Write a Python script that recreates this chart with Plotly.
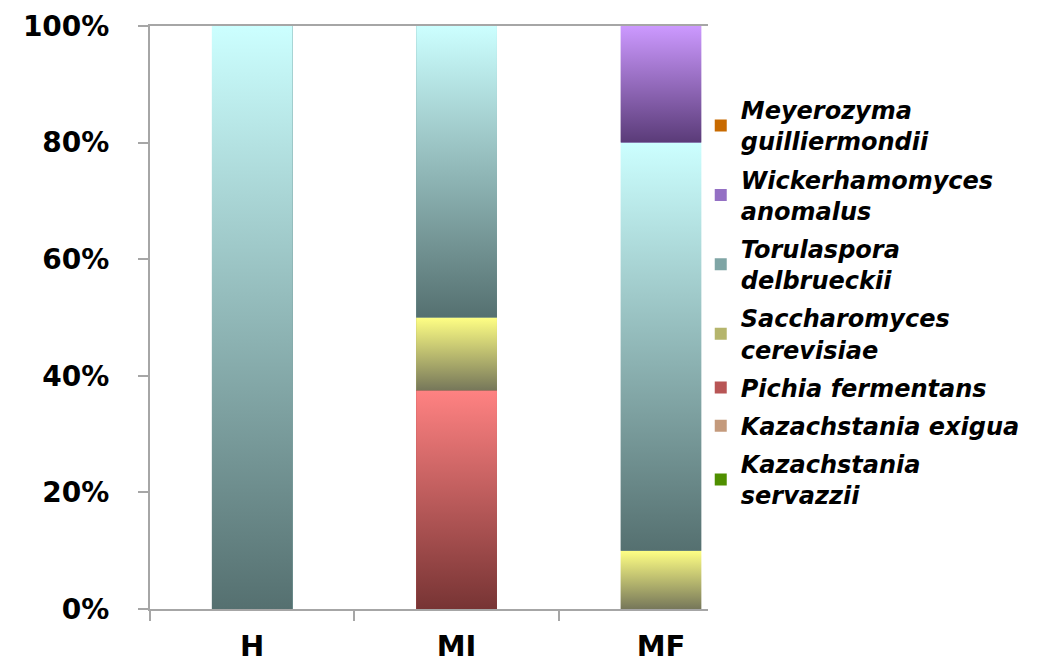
import plotly.graph_objects as go

# ---- data (percent of isolates) ----
categories = ["H", "MI", "MF"]
# stacking order: bottom -> top
species = [
    "Kazachstania<br>servazzii",
    "Kazachstania exigua",
    "Pichia fermentans",
    "Saccharomyces<br>cerevisiae",
    "Torulaspora<br>delbrueckii",
    "Wickerhamomyces<br>anomalus",
    "Meyerozyma<br>guilliermondii",
]
kazachstania_servazzii = [0, 0, 0]
kazachstania_exigua = [0, 0, 0]
pichia_fermentans = [0, 37.5, 0]
saccharomyces_cerevisiae = [0, 12.5, 10]
torulaspora_delbrueckii = [100, 50, 70]
wickerhamomyces_anomalus = [0, 0, 20]
meyerozyma_guilliermondii = [0, 0, 0]
y_ticks = [0, 20, 40, 60, 80, 100]

values = [
    kazachstania_servazzii,
    kazachstania_exigua,
    pichia_fermentans,
    saccharomyces_cerevisiae,
    torulaspora_delbrueckii,
    wickerhamomyces_anomalus,
    meyerozyma_guilliermondii,
]

# (bottom colour, top colour, legend colour)
colors = [
    ("#2f5a00", "#6fc400", "#4f8f00"),
    ("#86685a", "#ffc89e", "#c49a7c"),
    ("#773434", "#ff8282", "#b85555"),
    ("#76775a", "#ffff84", "#b5b56c"),
    ("#557070", "#ccffff", "#7fa5a5"),
    ("#5a3b78", "#cc99ff", "#9470c4"),
    ("#7a4200", "#f08a10", "#c86a00"),
]

bar_width = 0.395
xpos = list(range(len(categories)))
n = len(species)

fig = go.Figure()

# stacked bars (legend + base fill); legend lists top segment first
for k, (name, vals, (cb, ct, cl)) in enumerate(zip(species, values, colors)):
    fig.add_trace(go.Bar(
        x=xpos, y=vals, name=name, width=bar_width,
        marker=dict(color=cl, line=dict(width=0)),
        legendgroup=name, legendrank=n - k, hoverinfo="skip",
    ))

# gradient overlay for each stacked segment
base = [0.0] * len(categories)
for k, (name, vals, (cb, ct, cl)) in enumerate(zip(species, values, colors)):
    for i, v in enumerate(vals):
        if v > 0:
            b0 = base[i]
            b1 = b0 + v
            x0 = xpos[i] - bar_width / 2
            x1 = xpos[i] + bar_width / 2
            fig.add_trace(go.Scatter(
                x=[x0, x1, x1, x0, x0],
                y=[b0, b0, b1, b1, b0],
                fill="toself", mode="lines",
                line=dict(width=0, color=cl),
                fillgradient=dict(type="vertical",
                                  colorscale=[[0, cb], [1, ct]],
                                  start=b0, stop=b1),
                showlegend=False, legendgroup=name, legendrank=n - k,
                hoverinfo="skip",
            ))
        base[i] += v

axis_grey = "#a6a6a6"
fig.update_layout(
    width=1039, height=671,
    barmode="stack",
    paper_bgcolor="white", plot_bgcolor="white",
    margin=dict(l=142, r=339, t=18, b=70, autoexpand=False),
    font=dict(family="DejaVu Sans", color="black"),
    xaxis=dict(
        range=[-0.5, 2.23], automargin=False,
        tickmode="array", tickvals=xpos, ticktext=categories,
        ticks="", showgrid=False, zeroline=False,
        showline=True, linecolor=axis_grey, linewidth=2, mirror=True,
        tickfont=dict(size=29, weight="bold"),
        ticklabelstandoff=10, ticklabeloverflow="allow",
        minor=dict(tickmode="array", tickvals=[-0.5, 0.5, 1.5],
                   ticks="outside", ticklen=10, tickwidth=2,
                   tickcolor=axis_grey, showgrid=False),
    ),
    yaxis=dict(
        range=[0, 100], automargin=False,
        tickmode="array", tickvals=y_ticks,
        ticktext=[f"{t}%" for t in y_ticks],
        ticks="outside", ticklen=10, tickwidth=2, tickcolor=axis_grey,
        showgrid=False, zeroline=False,
        showline=True, linecolor=axis_grey, linewidth=2,
        tickfont=dict(size=28, weight="bold"),
        ticklabelstandoff=23, ticklabeloverflow="allow",
    ),
    legend=dict(
        x=0.987, xanchor="left", y=0.894, yanchor="top",
        traceorder="grouped", tracegroupgap=4,
        font=dict(family="DejaVu Sans", size=24, weight="bold", style="italic"),
        bgcolor="rgba(0,0,0,0)",
    ),
)

fig.write_html("out.html")
